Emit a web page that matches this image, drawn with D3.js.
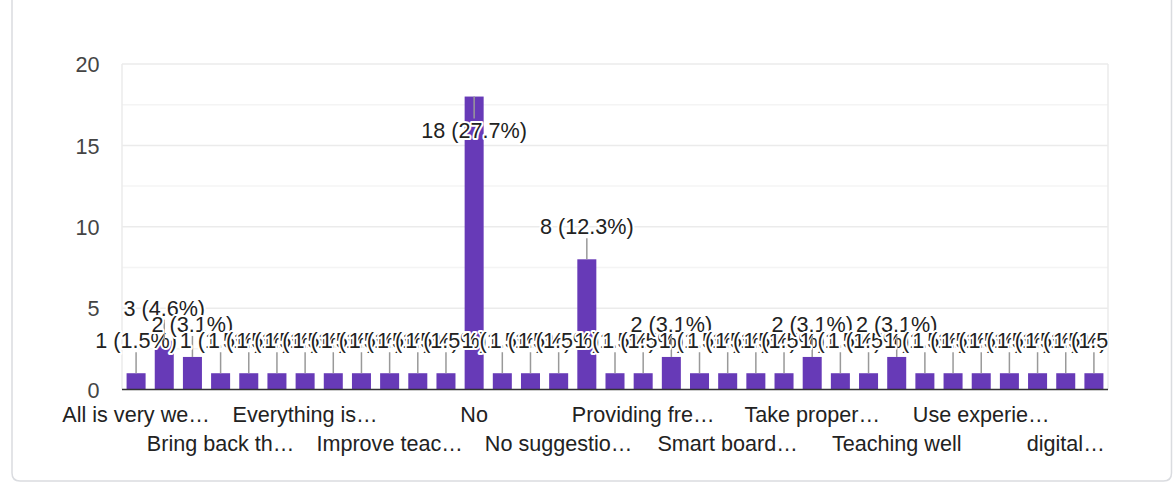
<!DOCTYPE html>
<html>
<head>
<meta charset="utf-8">
<script src="https://cdn.jsdelivr.net/npm/d3@7"></script>
<style>
  html, body { margin: 0; padding: 0; background: #fff; }
  svg { display: block; font-family: "Liberation Sans", Arial, sans-serif; }
</style>
</head>
<body>
<svg id="chart" width="1173" height="483"></svg>
<script>
// Responses (sorted as the form lists them) and how many people gave each one
const categories = [
  "All is very well done", "All is well", "Better teaching methods",
  "Bring back the old system", "Conduct more practicals", "Everything good",
  "Everything is good so far", "Good", "Improve infrastructure",
  "Improve teaching quality", "Increase lab facilities", "More practical classes",
  "No", "No comments", "No need",
  "No suggestions", "Nothing", "Online classes",
  "Providing free resources", "Regular tests", "Satisfied",
  "Smart board classrooms", "Sports facilities", "Study tours",
  "Take proper feedback", "Teach with examples", "Teachers are good",
  "Teaching well", "Timely syllabus completion", "Use audio visual aids",
  "Use experienced faculty", "Very good", "Well managed",
  "digital learning", "nothing"
];
const counts = [
  1, 3, 2,
  1, 1, 1,
  1, 1, 1,
  1, 1, 1,
  18, 1, 1,
  1, 8, 1,
  1, 2, 1,
  1, 1, 1,
  2, 1, 1,
  2, 1, 1,
  1, 1, 1,
  1, 1
];
// Axis text shown under every third bar, alternating between two rows
const axisLabels = [
  "All is very we…", "Bring back th…", "Everything is…", "Improve teac…",
  "No", "No suggestio…", "Providing fre…", "Smart board…",
  "Take proper…", "Teaching well", "Use experie…", "digital…"
];
const yTicks = [0, 5, 10, 15, 20];
const yMinorTicks = [2.5, 7.5, 12.5, 17.5];

const FONT = 21.6;
const plot = { left: 122, right: 1108, top: 64, bottom: 389.5 };
const total = d3.sum(counts);

const svg = d3.select("#chart");

// Card outline (top edge runs off the page)
const cardL = 12, cardR = 1171.5, cardB = 481, r = 8;
svg.append("path")
  .attr("d", `M${cardL},-10 L${cardL},${cardB - r} Q${cardL},${cardB} ${cardL + r},${cardB}
              L${cardR - r},${cardB} Q${cardR},${cardB} ${cardR},${cardB - r} L${cardR},-10`)
  .attr("fill", "none")
  .attr("stroke", "#dadce0")
  .attr("stroke-width", 1.5);

const x = d3.scaleBand()
  .domain(d3.range(categories.length))
  .range([plot.left, plot.right])
  .paddingInner(0.325)
  .paddingOuter(0.1625);

const y = d3.scaleLinear().domain([0, 20]).range([plot.bottom, plot.top]);

// Gridlines
svg.append("g").selectAll("line").data(yMinorTicks).join("line")
  .attr("x1", plot.left).attr("x2", plot.right)
  .attr("y1", d => y(d)).attr("y2", d => y(d))
  .attr("stroke", "#f4f4f4").attr("stroke-width", 1.5);
svg.append("g").selectAll("line").data(yTicks.filter(d => d > 0)).join("line")
  .attr("x1", plot.left).attr("x2", plot.right)
  .attr("y1", d => y(d)).attr("y2", d => y(d))
  .attr("stroke", "#ebebeb").attr("stroke-width", 1.5);
svg.append("g").selectAll("line").data([plot.left, plot.right]).join("line")
  .attr("x1", d => d).attr("x2", d => d)
  .attr("y1", plot.top).attr("y2", plot.bottom)
  .attr("stroke", "#ebebeb").attr("stroke-width", 1.5);

// Y axis labels
const yAxis = d3.axisLeft(y).tickValues(yTicks).tickSize(0).tickPadding(0);
const gy = svg.append("g").attr("transform", `translate(${plot.left - 22.5},0)`).call(yAxis);
gy.select(".domain").remove();
gy.selectAll("text")
  .attr("font-size", FONT)
  .attr("font-family", "Liberation Sans, Arial, sans-serif")
  .attr("fill", "#444")
  .attr("dy", "0.36em");

// Bars
svg.append("g").selectAll("rect").data(counts).join("rect")
  .attr("x", (d, i) => x(i))
  .attr("width", x.bandwidth())
  .attr("y", d => y(d))
  .attr("height", d => y(0) - y(d))
  .attr("fill", "#673ab7");

// Baseline
svg.append("line")
  .attr("x1", plot.left).attr("x2", plot.right)
  .attr("y1", plot.bottom).attr("y2", plot.bottom)
  .attr("stroke", "#333").attr("stroke-width", 1.6);

// Category labels
const gx = svg.append("g");
axisLabels.forEach((label, k) => {
  const i = k * 3;
  gx.append("text")
    .attr("x", x(i) + x.bandwidth() / 2)
    .attr("y", k % 2 === 0 ? 421.5 : 450.5)
    .attr("text-anchor", "middle")
    .attr("font-size", FONT)
    .attr("fill", "#222")
    .text(label);
});

// Value annotations: stem plus haloed label, drawn bar by bar
svg.append("defs").append("clipPath").attr("id", "annClip")
  .append("rect").attr("x", 0).attr("y", 0).attr("width", plot.right).attr("height", 483);
const ann = svg.append("g").attr("clip-path", "url(#annClip)");
const capH = FONT * 0.72;
counts.forEach((v, i) => {
  const cx = x(i) + x.bandwidth() / 2;
  const top = y(v);
  const pct = (v / total * 100).toFixed(1);
  const outside = top - 25 - capH >= plot.top;
  let stemEnd, baseline;
  if (outside) {
    stemEnd = top - 21;
    baseline = top - 25;
  } else {
    stemEnd = top + 22;
    baseline = top + 41.5;
  }
  ann.append("line")
    .attr("x1", cx).attr("x2", cx)
    .attr("y1", top).attr("y2", stemEnd)
    .attr("stroke", "#999").attr("stroke-width", 1.5);
  ann.append("text")
    .attr("x", cx)
    .attr("y", baseline)
    .attr("text-anchor", "middle")
    .attr("font-size", FONT)
    .attr("fill", "#222")
    .attr("stroke", "#fff")
    .attr("stroke-width", 4)
    .attr("stroke-linejoin", "round")
    .attr("paint-order", "stroke")
    .text(`${v} (${pct}%)`);
});
</script>
</body>
</html>
